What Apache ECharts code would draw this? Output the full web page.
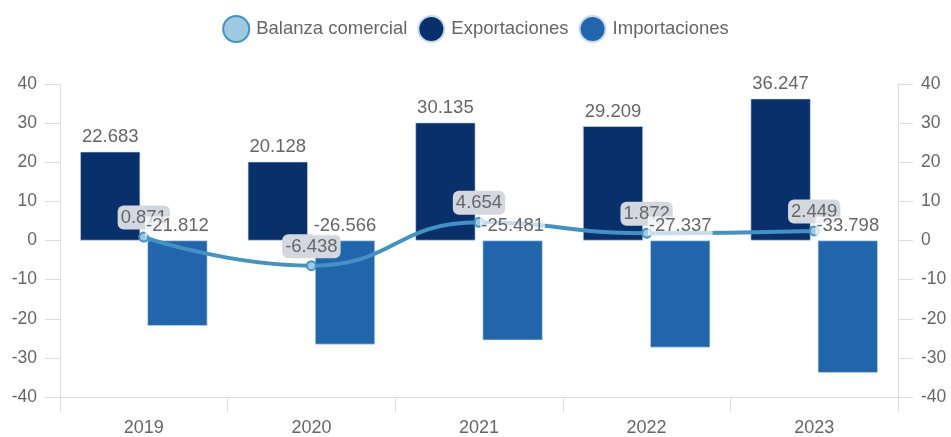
<!DOCTYPE html>
<html><head><meta charset="utf-8">
<script src="https://cdn.jsdelivr.net/npm/echarts@6/dist/echarts.min.js"></script>
<style>html,body{margin:0;padding:0;background:#fff}#c{width:951px;height:437px}</style>
</head><body><div id="c"></div>
<script>
const categories = ['2019','2020','2021','2022','2023'];
const balanza = [0.871, -6.438, 4.654, 1.872, 2.449];
const exportaciones = [22.683, 20.128, 30.135, 29.209, 36.247];
const importaciones = [-21.812, -26.566, -25.481, -27.337, -33.798];
const yTicks = {min: -40, max: 40, interval: 10};

const FONT = 'Liberation Sans';
const TXT = '#666';
const BAR_W = 60, BAR_GAP = 0.12;
const half = (BAR_W * (2 + BAR_GAP)) / 2 - BAR_W / 2;
const chart = echarts.init(document.getElementById('c'));
const yAxisCommon = {
  type: 'value', min: yTicks.min, max: yTicks.max, interval: yTicks.interval,
  splitLine: {show: false},
  axisLine: {show: true, lineStyle: {color: '#ddd'}},
  axisTick: {show: true, length: 15, lineStyle: {color: '#ddd'}},
  axisLabel: {color: TXT, fontSize: 17.5, fontFamily: FONT, margin: 23}
};
function labelSeries(values, dx) {
  // invisible anchors at the top edge of each bar, carrying the bar's value label above the line
  return {
    type: 'scatter', yAxisIndex: 0, z: 5, silent: true, symbolSize: 0,
    itemStyle: {opacity: 1},
    data: values.map((v, i) => [i, Math.max(v, 0), v]),
    encode: {x: 0, y: 1},
    label: {show: true, position: 'top', distance: 5, offset: [dx, 0], color: TXT, fontSize: 18.5, fontFamily: FONT,
      backgroundColor: 'rgba(255,255,255,0.7)', padding: [0, 1],
      formatter: p => String(p.data[2])}
  };
}
chart.setOption({
  animation: false,
  textStyle: {fontFamily: FONT},
  legend: {
    top: 10, left: 'center', icon: 'circle', itemWidth: 26, itemHeight: 26, itemGap: 10,
    textStyle: {color: TXT, fontSize: 18.5, fontFamily: FONT, padding: [0, 0, 0, 2]},
    data: ['Balanza comercial', 'Exportaciones', 'Importaciones']
  },
  grid: {left: 60, right: 53, top: 84, bottom: 40},
  xAxis: {
    type: 'category', data: categories,
    axisLine: {onZero: false, lineStyle: {color: '#ddd'}},
    axisTick: {show: true, length: 15, lineStyle: {color: '#ddd'}},
    axisLabel: {color: TXT, fontSize: 18, fontFamily: FONT, margin: 22}
  },
  yAxis: [Object.assign({position: 'left'}, yAxisCommon), Object.assign({position: 'right'}, yAxisCommon)],
  series: [
    {
      name: 'Balanza comercial', type: 'line', yAxisIndex: 1, data: balanza, smooth: true, z: 3,
      symbol: 'circle', symbolSize: 9,
      lineStyle: {color: '#4292c6', width: 4},
      itemStyle: {color: '#9ecae1', borderColor: '#4292c6', borderWidth: 2},
      label: {show: true, position: 'top', distance: 2, color: TXT, fontSize: 18.5, fontFamily: FONT,
        backgroundColor: '#d3d8df', borderRadius: 6, padding: [3, 3, 2, 3]}
    },
    {
      name: 'Exportaciones', type: 'bar', data: exportaciones, barWidth: BAR_W, barGap: (BAR_GAP * 100) + '%', z: 2,
      itemStyle: {color: '#08306b', borderColor: '#c6dbef', borderWidth: 0.6}
    },
    {
      name: 'Importaciones', type: 'bar', data: importaciones, barWidth: BAR_W, z: 2,
      itemStyle: {color: '#2166ac', borderColor: '#c6dbef', borderWidth: 0.6}
    },
    labelSeries(exportaciones, -half),
    labelSeries(importaciones, half)
  ]
});
</script></body></html>
